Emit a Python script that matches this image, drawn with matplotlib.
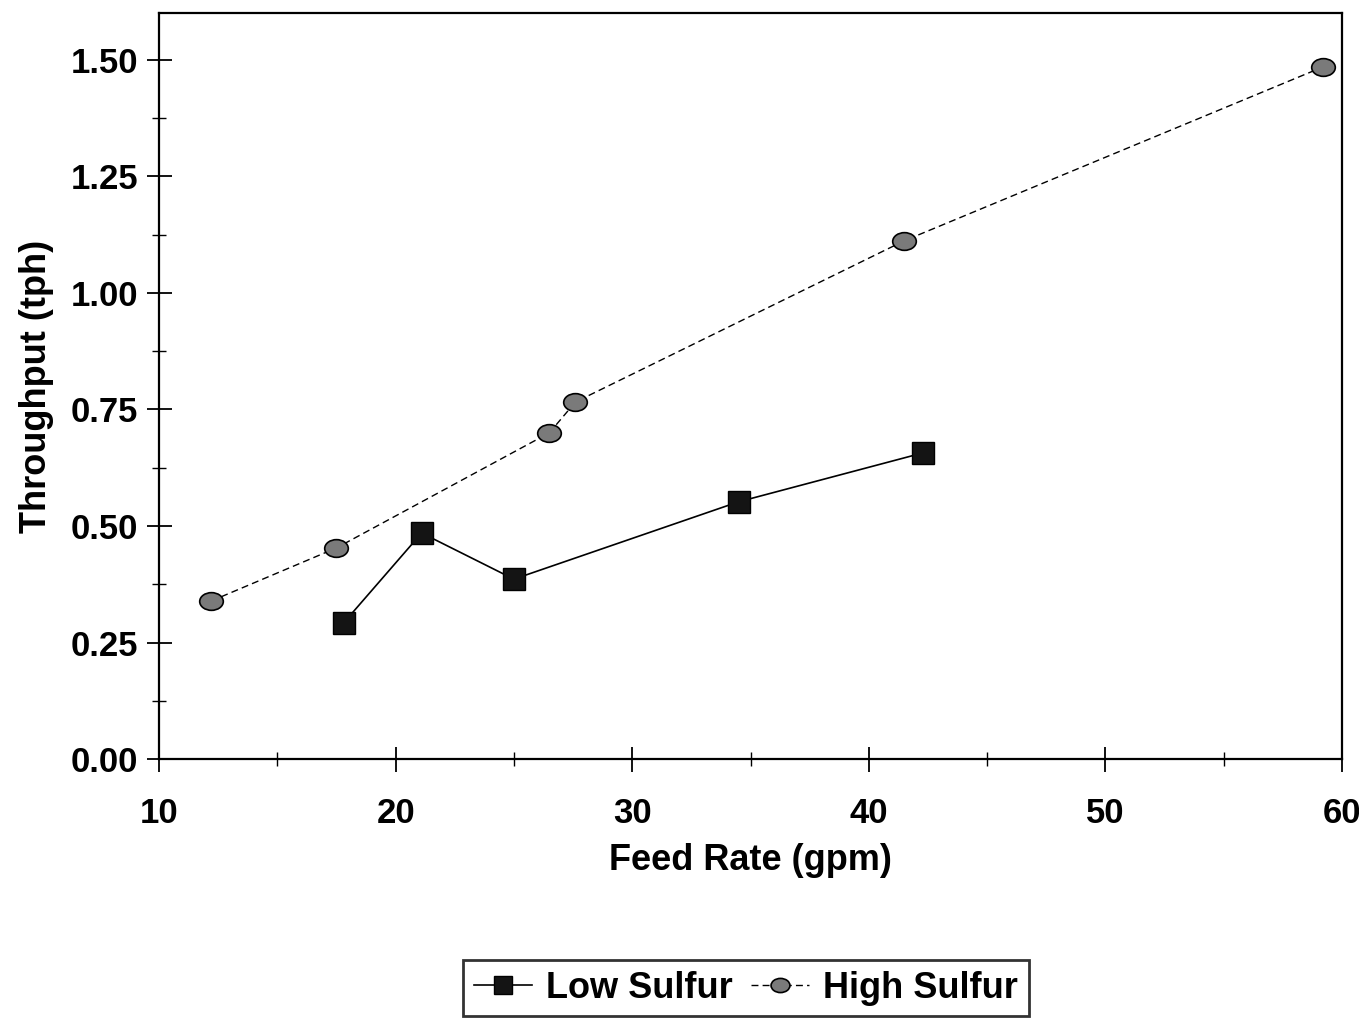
import numpy as np
import matplotlib.pyplot as plt
from matplotlib.path import Path
from matplotlib.transforms import Affine2D
from matplotlib.ticker import MultipleLocator, FormatStrFormatter

# valores
low_x = [17.8, 21.1, 25.0, 34.5, 42.3]
low_y = [0.292, 0.485, 0.386, 0.552, 0.657]
high_x = [12.2, 17.5, 26.5, 27.6, 41.5, 59.2]
high_y = [0.339, 0.453, 0.700, 0.766, 1.112, 1.485]

plt.rcParams['font.family'] = ['Liberation Sans', 'DejaVu Sans']
plt.rcParams['font.weight'] = 'bold'

# marcador elíptico (achatado) como no original
ellipse = Path.unit_circle().transformed(Affine2D().scale(1.0, 0.75))

fig = plt.figure(figsize=(13.59, 10.23), dpi=100)
ax = fig.add_axes([0.117, 0.258, 0.8705, 0.729])

ax.plot(low_x, low_y, '-', color='black', lw=1.2, marker='s', ms=15.5,
        mfc='#141414', mec='black', label='Low Sulfur')
ax.plot(high_x, high_y, '--', color='black', lw=1.0, dashes=(5, 3), marker=ellipse, ms=17,
        mfc='#7a7a7a', mec='black', mew=1.2, label='High Sulfur')

ax.set_xlim(10, 60)
ax.set_ylim(0, 1.6)
ax.xaxis.set_major_locator(MultipleLocator(10))
ax.xaxis.set_minor_locator(MultipleLocator(5))
ax.yaxis.set_major_locator(MultipleLocator(0.25))
ax.yaxis.set_minor_locator(MultipleLocator(0.125))
ax.yaxis.set_major_formatter(FormatStrFormatter('%.2f'))

ax.tick_params(which='major', direction='inout', length=18, width=1.3, labelsize=25)
ax.tick_params(which='minor', direction='inout', length=10, width=1.0)
ax.tick_params(axis='x', which='major', pad=18)
ax.tick_params(axis='y', which='major', pad=6)
for lab in ax.get_xticklabels() + ax.get_yticklabels():
    lab.set_fontweight('bold')

for s in ax.spines.values():
    s.set_linewidth(1.6)

ax.set_xlabel('Feed Rate (gpm)', fontsize=26, fontweight='bold', labelpad=10)
ax.set_ylabel('Throughput (tph)', fontsize=26, fontweight='bold', labelpad=12)

leg = fig.legend(loc='center', bbox_to_anchor=(746 / 1359, 1 - 988 / 1023), ncol=2,
                 fontsize=26, frameon=True, fancybox=False, edgecolor='black',
                 handlelength=1.6, columnspacing=0.5, handletextpad=0.4,
                 borderpad=0.3, markerscale=0.8)
leg.get_frame().set_linewidth(2.0)
for t in leg.get_texts():
    t.set_fontweight('bold')

fig.savefig('out.png', dpi=100)
